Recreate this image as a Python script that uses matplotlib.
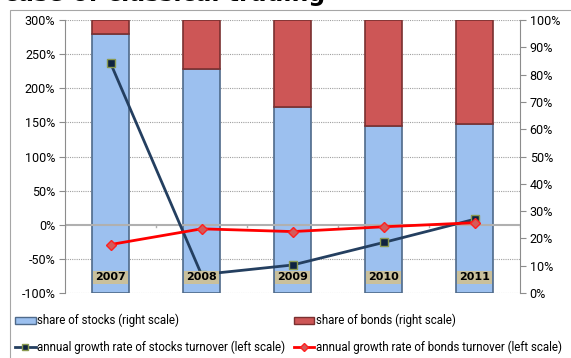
import matplotlib
matplotlib.use("Agg")
import matplotlib.pyplot as plt
from matplotlib.lines import Line2D
from matplotlib.patches import Patch, Rectangle
import numpy as np

years = ["2007", "2008", "2009", "2010", "2011"]
share_stocks = [95, 82, 68, 61, 62]          # right scale, %
stocks_growth = [237, -73, -59, -26, 8]      # left scale, %
bonds_growth = [-29, -6, -10, -3, 3]         # left scale, %

plt.rcParams['font.family'] = ['Roboto', 'DejaVu Sans']
fig = plt.figure(figsize=(5.71, 3.58), dpi=100)

# chart border
fig.patches.append(Rectangle((10/571, -0.02), 1.0, 1 - 10/358 + 0.02, transform=fig.transFigure,
                             fill=False, edgecolor='#a6a6a6', linewidth=0.8))
fig.text(4/571, 1 - 1.5/358, "case of classical trading", fontsize=17, fontweight='bold',
         ha='left', va='baseline', color='black', family=['DejaVu Sans'])

pos = [65/571, (358-293)/358, (520-65)/571, (293-20)/358]
axL = fig.add_axes(pos)            # left scale: growth lines
axR = axL.twinx()                  # right scale: share bars
axL.set_zorder(3)
axL.patch.set_visible(False)
axR.set_zorder(2)

x = np.arange(len(years))
share_bonds = [100 - s for s in share_stocks]
w = 0.4
axR.bar(x, share_stocks, width=w, color='#9cc0ef', edgecolor='#4f6a8a', linewidth=1.2, zorder=2)
axR.bar(x, share_bonds, width=w, bottom=share_stocks, color='#cd5656', edgecolor='#7a3030',
        linewidth=1.2, zorder=2)
axR.set_ylim(0, 100)
axR.set_xlim(-0.5, 4.5)
axR.set_yticks(range(0, 101, 10))
axR.set_yticklabels([f"{v}%" for v in range(0, 101, 10)], fontsize=9)
axR.tick_params(axis='y', length=4, color='#8c8c8c', pad=3)

axL.set_xlim(-0.5, 4.5)
axL.set_ylim(-100, 300)
ticks = list(range(-100, 301, 50))
axL.set_yticks(ticks)
axL.set_yticklabels([f"{v}%" for v in ticks], fontsize=9)
axL.tick_params(axis='y', length=4, color='#8c8c8c', pad=3)
axL.set_xticks([])
for a in (axL, axR):
    for s in ['top', 'bottom']:
        a.spines[s].set_visible(False)
axL.spines['right'].set_visible(False)
axR.spines['left'].set_visible(False)
axL.spines['left'].set_color('#8c8c8c')
axR.spines['right'].set_color('#8c8c8c')

for t in ticks:
    if t != 0:
        axR.plot([-0.5, 4.5], [(t + 100) / 4] * 2, color='#a0a0a0', linewidth=0.8,
                 linestyle=(0, (1, 1)), zorder=1)
axL.axhline(0, color='#b0b0b0', linewidth=1.5, zorder=1)
for b in np.arange(-0.5, 4.6, 1.0):
    axL.plot([b, b], [0, -4], color='#b0b0b0', linewidth=1, zorder=1)

axL.plot(x, stocks_growth, color='#243f60', linewidth=2, marker='s', markersize=6,
         markerfacecolor='#0f2340', markeredgecolor='#8a9a50', markeredgewidth=1, zorder=4)
axL.plot(x, bonds_growth, color='#ff0000', linewidth=2, marker='D', markersize=5,
         markerfacecolor='#d45a5a', markeredgecolor='#ff2020', markeredgewidth=1, zorder=4)
for xi, yr in zip(x, years):
    axL.text(xi, -77, yr, ha='center', va='center', fontsize=8, fontweight='bold',
             family=['DejaVu Sans'],
             bbox=dict(boxstyle='square,pad=0.15', facecolor='#c9c09c', edgecolor='none'), zorder=5)

handles = [
    Patch(facecolor='#9cc0ef', edgecolor='#4f6a8a'),
    Line2D([], [], color='#243f60', linewidth=2, marker='s', markersize=5,
           markerfacecolor='#0f2340', markeredgecolor='#8a9a50'),
    Patch(facecolor='#cd5656', edgecolor='#7a3030'),
    Line2D([], [], color='#ff0000', linewidth=2, marker='D', markersize=4,
           markerfacecolor='#d45a5a', markeredgecolor='#ff2020'),
]
labels = ["share of stocks (right scale)", "annual growth rate of stocks turnover (left scale)",
          "share of bonds (right scale)", "annual growth rate of bonds turnover (left scale)"]
fig.legend(handles, labels, ncol=2, loc='lower left', bbox_to_anchor=(8/571, -3/358),
           frameon=False, fontsize=8.3, handlelength=1.8, handleheight=0.5, handletextpad=0.15,
           columnspacing=0.7, labelspacing=1.15, borderaxespad=0.2)

fig.savefig("out.png", dpi=100)
